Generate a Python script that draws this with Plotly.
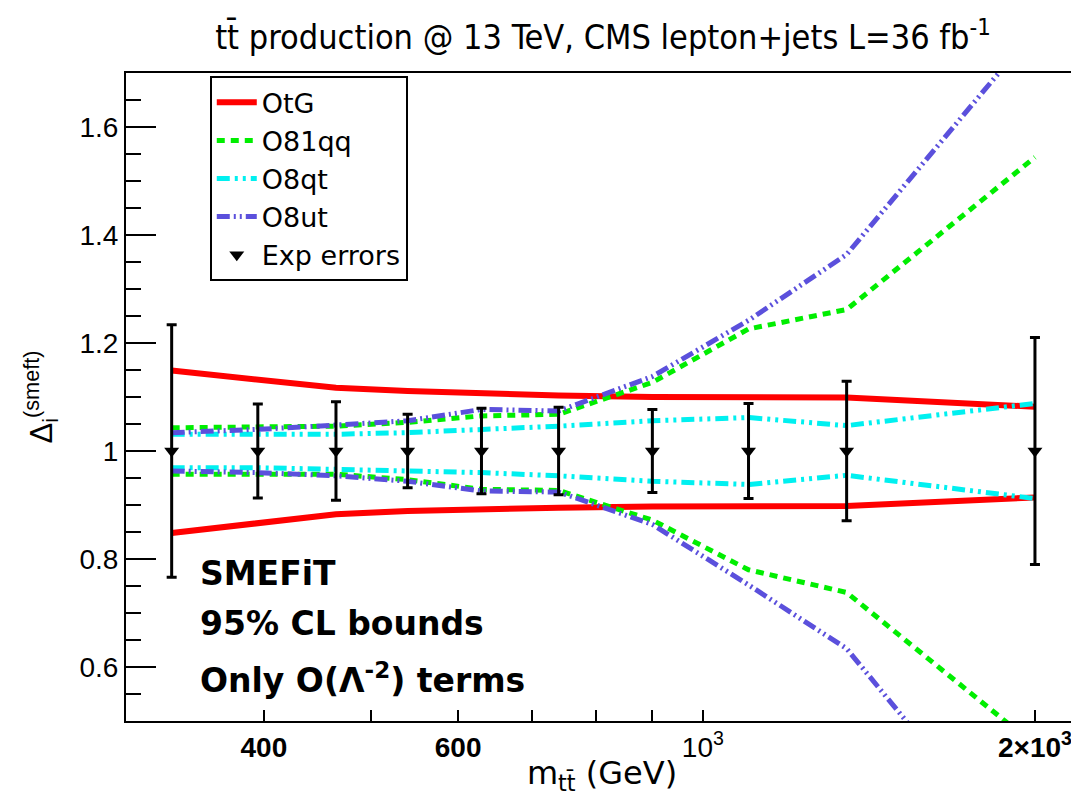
import math
import plotly.graph_objects as go

# ---- data ----
m_tt = [330, 395, 465, 540, 630, 740, 900, 1100, 1350, 2000]
central = [1.0, 1.0, 1.0, 1.0, 1.0, 1.0, 1.0, 1.0, 1.0, 1.0]
exp_err = [0.234, 0.087, 0.091, 0.068, 0.079, 0.081, 0.077, 0.088, 0.129, 0.210]

otg_up = [1.149, 1.133, 1.117, 1.111, 1.106, 1.103, 1.100, 1.100, 1.099, 1.082]
otg_lo = [0.848, 0.866, 0.883, 0.889, 0.893, 0.895, 0.897, 0.897, 0.898, 0.914]
o81qq_up = [1.043, 1.044, 1.046, 1.053, 1.065, 1.068, 1.127, 1.226, 1.262, 1.544]
o81qq_lo = [0.957, 0.957, 0.957, 0.947, 0.929, 0.927, 0.872, 0.780, 0.738, 0.455]
o8qt_up = [1.031, 1.031, 1.031, 1.034, 1.040, 1.046, 1.056, 1.062, 1.047, 1.088]
o8qt_lo = [0.969, 0.969, 0.966, 0.963, 0.960, 0.954, 0.944, 0.938, 0.955, 0.912]
o8ut_up = [1.034, 1.040, 1.048, 1.056, 1.077, 1.074, 1.138, 1.242, 1.364, 1.780]
o8ut_lo = [0.963, 0.960, 0.954, 0.944, 0.926, 0.924, 0.864, 0.752, 0.634, 0.210]

x_tickvals = [400, 600, 1000, 2000]
x_ticktext = ["<b>400</b>", "<b>600</b>", "10<sup>3</sup>", "<b>2×10<sup>3</sup></b>"]
x_minor = [500, 700, 800, 900]
x_minor_top = [400, 500, 600, 700, 800, 900, 2000]
x_range = [300, 2188]
y_range = [0.5, 1.7]

FONT = "Liberation Sans, Arial, Helvetica, sans-serif"
WIDE = "DejaVu Sans, Liberation Sans, sans-serif"

series = [
    ("OtG", otg_up, otg_lo, "#ff0000", 6, "solid"),
    ("O81qq", o81qq_up, o81qq_lo, "#00ee00", 5, "8px,6px"),
    ("O8qt", o8qt_up, o8qt_lo, "#00f0f0", 5, "13px,5px,3px,5px,3px,5px"),
    ("O8ut", o8ut_up, o8ut_lo, "#5b50dc", 5, "13px,4px,2px,4px,2px,4px"),
]

fig = go.Figure()
for name, up, lo, color, width, dash in series:
    fig.add_trace(go.Scatter(
        x=m_tt + [None] + m_tt, y=up + [None] + lo,
        mode="lines", name=name, connectgaps=False,
        line=dict(color=color, width=width, dash=dash),
    ))

fig.add_trace(go.Scatter(
    x=m_tt, y=central, mode="markers", name="Exp errors",
    marker=dict(symbol="triangle-down", size=13, color="black"),
    error_y=dict(type="data", array=exp_err, color="black", thickness=3, width=5),
))

lx = [math.log10(v) for v in x_range]
tick_common = dict(tickcolor="black", tickwidth=2, showgrid=False, zeroline=False, automargin=False)

# the page body adds an 8px offset; the figure is sized so the plot box lands at
# x 126..1078, y 73..721 of the 1079x797 window
fig.update_layout(
    width=1071, height=789,
    margin=dict(l=118, r=1, t=65, b=76, autoexpand=False),
    paper_bgcolor="white", plot_bgcolor="white",
    font=dict(family=FONT, color="black"),
    title=dict(
        text="tt\u0304 production @ 13 TeV, CMS lepton+jets L=36 fb<sup>-1</sup>",
        x=(603 - 8) / 1071, xanchor="center", y=0.963, yanchor="middle",
        font=dict(family="DejaVu Sans Condensed, Liberation Sans, sans-serif", size=34),
    ),
    showlegend=True,
    legend=dict(
        x=0.088, y=0.995, xanchor="left", yanchor="top",
        bgcolor="white", bordercolor="black", borderwidth=2,
        font=dict(family=WIDE, size=27), itemwidth=40,
        tracegroupgap=0,
    ),
    xaxis=dict(
        type="log", range=lx, tickvals=x_tickvals, ticktext=x_ticktext,
        ticks="inside", ticklen=11, **tick_common,
        minor=dict(tickvals=x_minor, ticks="inside", ticklen=11, tickwidth=2, tickcolor="black"),
        showline=True, linecolor="black", linewidth=2, mirror=True,
        tickfont=dict(family=FONT, size=28),
        title=dict(text="m<sub>tt\u0304</sub> (GeV)", font=dict(family=WIDE, size=32), standoff=0),
    ),
    xaxis2=dict(
        type="log", range=lx, overlaying="x", side="top", anchor="y",
        tickvals=[1000], ticks="inside", ticklen=21, showticklabels=False, **tick_common,
        minor=dict(tickvals=x_minor_top, ticks="inside", ticklen=11, tickwidth=2, tickcolor="black"),
        showline=False,
    ),
    xaxis3=dict(
        type="log", range=lx, overlaying="x", side="bottom", anchor="y",
        tickvals=[1000], ticks="inside", ticklen=21, showticklabels=False, **tick_common,
        showline=False,
    ),
    yaxis=dict(
        range=y_range, tick0=0, dtick=0.2, ticks="inside", ticklen=30, **tick_common,
        minor=dict(dtick=0.05, ticks="inside", ticklen=15, tickwidth=2, tickcolor="black"),
        showline=True, linecolor="black", linewidth=2, mirror=False,
        tickfont=dict(family=FONT, size=28),
        title=dict(text="\u0394<sub>i</sub><sup>(smeft)</sup>", font=dict(family=FONT, size=31), standoff=18),
    ),
    yaxis2=dict(
        range=y_range, overlaying="y", side="right", anchor="x",
        tick0=0, dtick=0.2, ticks="inside", ticklen=30, showticklabels=False, **tick_common,
        minor=dict(dtick=0.05, ticks="inside", ticklen=15, tickwidth=2, tickcolor="black"),
        showline=False,
    ),
)

note_font = dict(family=WIDE, size=33, color="black")
for text, ypix in [("<b>SMEFiT</b>", 573), ("<b>95% CL bounds</b>", 623), ("<b>Only O(\u039b<sup>-2</sup>) terms</b>", 678)]:
    fig.add_annotation(
        xref="paper", yref="paper", x=(198 - 126) / 952, y=(721 - ypix) / 648,
        xanchor="left", yanchor="middle", text=text, showarrow=False, font=note_font,
    )

fig.write_html("out.html")
